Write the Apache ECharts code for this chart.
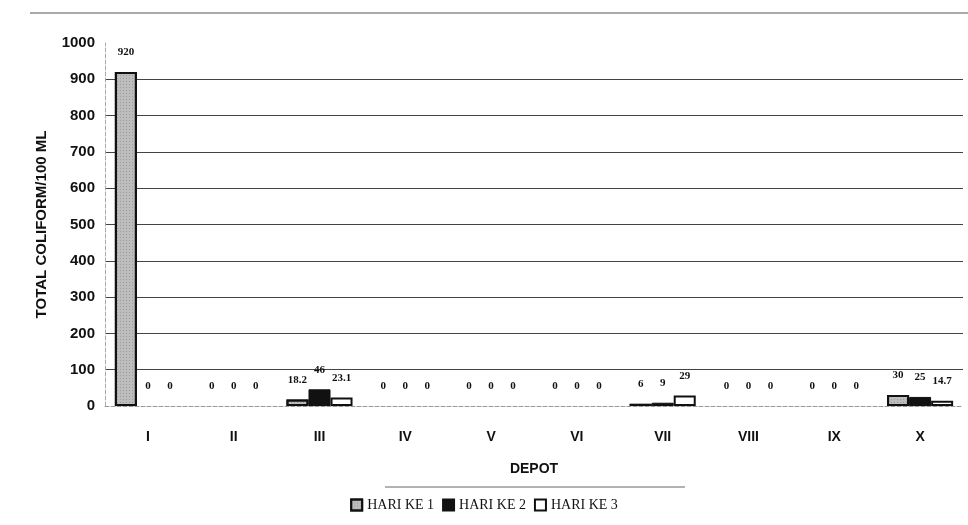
<!DOCTYPE html>
<html>
<head>
<meta charset="utf-8">
<script src="https://cdn.jsdelivr.net/npm/echarts@6/dist/echarts.min.js"></script>
<style>html,body{margin:0;padding:0;background:#fff;}#c{width:968px;height:525px;}</style>
</head>
<body>
<div id="c"></div>
<script>
var categories = ['I','II','III','IV','V','VI','VII','VIII','IX','X'];
var hari1 = [920, 0, 18.2, 0, 0, 0, 6, 0, 0, 30];
var hari2 = [0, 0, 46, 0, 0, 0, 9, 0, 0, 25];
var hari3 = [0, 0, 23.1, 0, 0, 0, 29, 0, 0, 14.7];
var yTicks = [0, 100, 200, 300, 400, 500, 600, 700, 800, 900, 1000];

function toItems(arr) {
  return arr.map(function (v) {
    return v === 0 ? { value: v, itemStyle: { borderWidth: 0 } } : v;
  });
}

var chart = echarts.init(document.getElementById('c'));
var labelStyle = {
  show: true, position: 'top', distance: 14,
  fontFamily: 'Liberation Serif', fontWeight: 'bold', fontSize: 11, color: '#111'
};
chart.setOption({
  animation: false,
  backgroundColor: '#fff',
  grid: { left: 105, right: 5, top: 43, bottom: 119, containLabel: false },
  xAxis: {
    type: 'category', data: categories,
    axisLine: { show: true, lineStyle: { color: '#999', type: 'dashed', width: 1 } },
    axisTick: { show: false },
    axisLabel: { margin: 24, fontFamily: 'Liberation Sans', fontWeight: 'bold', fontSize: 14, color: '#111' },
    name: 'DEPOT', nameLocation: 'middle', nameGap: 56,
    nameTextStyle: { fontFamily: 'Liberation Sans', fontWeight: 'bold', fontSize: 14, color: '#111' }
  },
  yAxis: {
    type: 'value', min: yTicks[0], max: yTicks[yTicks.length - 1], interval: 100,
    axisLine: { show: true, lineStyle: { color: '#aaa', type: 'dashed', width: 1 } },
    axisTick: { show: false },
    splitLine: { show: true, showMaxLine: false, showMinLine: false, lineStyle: { color: '#444', width: 1 } },
    axisLabel: {
      margin: 10, fontFamily: 'Liberation Sans', fontWeight: 'bold', fontSize: 15, color: '#111',
      formatter: function (v) { return String(v); }
    },
    name: 'TOTAL COLIFORM/100 ML', nameLocation: 'middle', nameGap: 56,
    nameTextStyle: { fontFamily: 'Liberation Sans', fontWeight: 'bold', fontSize: 15, color: '#111' }
  },
  legend: {
    bottom: 8, left: 'center', itemWidth: 11, itemHeight: 11, itemGap: 8,
    icon: 'rect',
    textStyle: { fontFamily: 'Liberation Serif', fontSize: 14, color: '#111' },
    data: ['HARI KE 1', 'HARI KE 2', 'HARI KE 3']
  },
  graphic: [
    { type: 'line', shape: { x1: 30, y1: 13, x2: 968, y2: 13 }, style: { stroke: '#555', lineWidth: 1 } },
    { type: 'line', shape: { x1: 385, y1: 487, x2: 685, y2: 487 }, style: { stroke: '#666', lineWidth: 1 } }
  ],
  series: [
    {
      name: 'HARI KE 1', type: 'bar', data: toItems(hari1), barGap: '0%', barCategoryGap: '23%',
      itemStyle: {
        color: '#bdbdbd', borderColor: '#111', borderWidth: 2,
        decal: { symbol: 'rect', symbolSize: 1, color: 'rgba(120,120,120,0.5)', dashArrayX: [1, 2], dashArrayY: [1, 2], rotation: 0 }
      },
      label: labelStyle
    },
    {
      name: 'HARI KE 2', type: 'bar', data: toItems(hari2),
      itemStyle: { color: '#111', borderColor: '#111', borderWidth: 1 },
      label: labelStyle
    },
    {
      name: 'HARI KE 3', type: 'bar', data: toItems(hari3),
      itemStyle: { color: '#fff', borderColor: '#111', borderWidth: 2 },
      label: labelStyle
    }
  ]
});
</script>
</body>
</html>
